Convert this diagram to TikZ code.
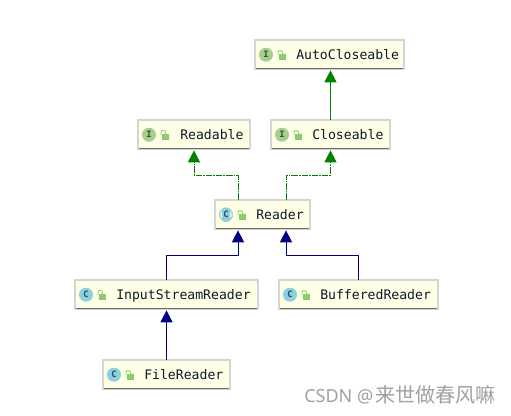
\documentclass[tikz,border=0pt]{standalone}
\usepackage{fontspec}
\usetikzlibrary{arrows.meta}
\setmonofont{DejaVu Sans Mono}
\newfontfamily\cjkwm{Noto Sans CJK SC}
\newfontfamily\latinwm{Noto Sans}
\definecolor{boxfill}{HTML}{FFFFE6}
\definecolor{boxedge}{HTML}{D4D4D4}
\definecolor{boxbase}{HTML}{6B6B6B}
\definecolor{ifacecol}{HTML}{A5D08B}
\definecolor{classcol}{HTML}{87D1E0}
\definecolor{ringcol}{HTML}{C4CDD0}
\definecolor{lockcol}{HTML}{8CCB70}
\definecolor{extgreen}{HTML}{008000}
\definecolor{extblue}{HTML}{000080}
\definecolor{iconink}{HTML}{3C4A4A}
\definecolor{wmgray}{HTML}{A0A0A0}
\definecolor{labelink}{HTML}{0A1A2E}
\tikzset{
  x=0.75pt,y=-0.75pt,
  umlbox/.style={draw=boxedge,fill=boxfill,line width=0.9pt,minimum height=21.75pt,inner sep=0pt,outer sep=0pt,anchor=north west},
  umltext/.style={anchor=base west,inner sep=0pt,font=\ttfamily\fontsize{9.85pt}{11pt}\selectfont,text=labelink},
  iconletter/.style={inner sep=0pt,font=\ttfamily\bfseries\fontsize{6.6pt}{7pt}\selectfont,text=iconink},
  umltip/.style={-{Triangle[length=9pt,width=9pt]},shorten >=1pt},
  greenline/.style={umltip,draw=extgreen,line width=0.75pt},
  greendash/.style={umltip,draw=extgreen,line width=0.75pt,dash pattern=on 5pt off 0.7pt on 1.2pt off 0.7pt},
  blueline/.style={umltip,draw=extblue,line width=0.75pt},
}
% #1 name, #2 left, #3 top, #4 width, #5 colour, #6 letter, #7 text, #8 text x
\newcommand{\umlentry}[8]{%
  \node[umlbox,minimum width=#4*0.75pt] (#1) at (#2,#3) {};
  \draw[boxbase,line width=0.9pt] (#2+1,#3+28.4) -- (#2+#4-1,#3+28.4);
  \fill[#5] (#2+11,#3+14.7) circle[radius=7];
  \node[iconletter] (#1-l) at (#2+11,#3+14.7) {#6};
  \fill[lockcol] (#2+24,#3+14) rectangle (#2+30.5,#3+19.5);
  \draw[lockcol,line width=0.6pt] (#2+23,#3+15) -- (#2+23,#3+12.5) arc[start angle=180,end angle=360,radius=2.2] -- (#2+27.4,#3+14);
  \node[umltext] (#1-t) at (#2+#8,#3+19.5) {#7};
}
\begin{document}
\begin{tikzpicture}
\useasboundingbox (0,0) rectangle (511,415);
\fill[white] (0,0) rectangle (511,415);
\umlentry{auto}{255}{40}{149}{ifacecol}{I}{AutoCloseable}{41}
\umlentry{readable}{138}{120}{112}{ifacecol}{I}{Readable}{42}
\umlentry{closeable}{271}{120}{119}{ifacecol}{I}{Closeable}{41}
\umlentry{reader}{215}{200}{95}{classcol}{C}{Reader}{41}
% the Reader icon is drawn as a narrow badge between two rings in the reference
\fill[ringcol] (226,214.7) circle[radius=7];
\fill[boxfill] (226,214.7) circle[radius=5.6];
\fill[classcol,rounded corners=2pt] (222,207.7) rectangle (230,221.7);
\node[iconletter] (reader-l2) at (226,214.7) {C};
\umlentry{isr}{75}{280}{183}{classcol}{C}{InputStreamReader}{41}
\umlentry{buffered}{279}{280}{159}{classcol}{C}{BufferedReader}{41}
\umlentry{file}{103}{360}{127}{classcol}{C}{FileReader}{41}
% connectors
\draw[greenline] (closeable.north) -- (closeable.north |- auto.south);
\draw[greendash] ([xshift=-18.375pt]reader.north) -- ++(0,-25) -| (readable.south);
\draw[greendash] ([xshift=17.625pt]reader.north) -- ++(0,-25) -| (closeable.south);
\draw[blueline] (isr.north) -- ++(0,-25) -| ([xshift=-18.375pt]reader.south);
\draw[blueline] (buffered.north) -- ++(0,-25) -| ([xshift=17.625pt]reader.south);
\draw[blueline] (file.north) -- (file.north |- isr.south);
\node[anchor=base west,inner sep=0pt,text=wmgray] (wm) at (304,402) {\latinwm\fontsize{13.5pt}{15pt}\selectfont CSDN @\hspace{1.5pt}\cjkwm\fontsize{15.1pt}{15pt}\selectfont 来世做春风嘛};
\end{tikzpicture}
\end{document}
